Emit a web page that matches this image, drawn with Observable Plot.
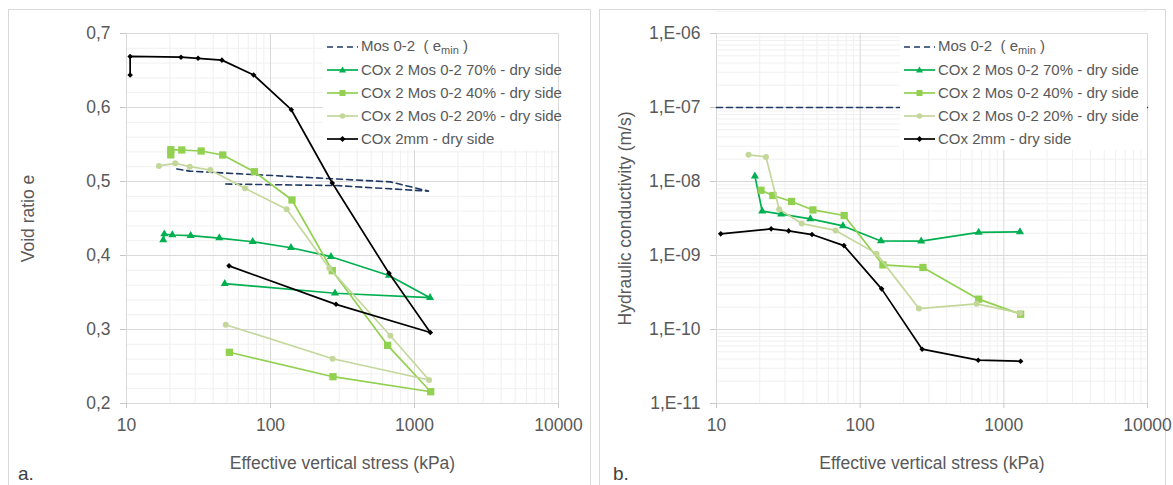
<!DOCTYPE html>
<html><head><meta charset="utf-8">
<script src="https://cdn.jsdelivr.net/npm/d3@7"></script>
<script src="https://cdn.jsdelivr.net/npm/@observablehq/plot@0.6"></script>
<style>
body{margin:0;background:#fff;font-family:"Liberation Sans",Arial,sans-serif;}
#wrap{position:relative;width:1173px;height:485px;overflow:hidden;background:#fff;}
.panel{position:absolute;border:1px solid #d9d9d9;box-sizing:border-box;}
.plot{position:absolute;top:0;}
.legend{position:absolute;background:#fff;font-size:15px;color:#595959;}
.row{position:absolute;left:0;height:22px;display:flex;align-items:center;white-space:nowrap;}
.row svg{margin-right:2px;flex:none;}
.tag{position:absolute;font-size:19px;color:#404040;line-height:19px;}
sub{font-size:11px;vertical-align:-3px;}
</style></head>
<body><div id="wrap"></div>
<script>
// ---------- data ----------
const seriesNames = ["Mos 0-2", "COx 2 Mos 0-2 70% - dry side", "COx 2 Mos 0-2 40% - dry side", "COx 2 Mos 0-2 20% - dry side", "COx 2mm - dry side"];
const seriesColors = ["#1f3864", "#00b050", "#92d050", "#c4d79b", "#000000"];
const seriesSymbols = [null, "triangle", "square", "circle", "diamond2"];

// (a) void ratio vs effective vertical stress
const stressMosA = [22.4, 27.5, 680, 1250, 285, 47.5];
const eMosA      = [0.517, 0.514, 0.4995, 0.487, 0.4945, 0.4966];
const stress70A  = [18.0, 18.3, 20.8, 27.9, 44.1, 75.2, 138.7, 263, 665, 1282, 280.5, 48.1];
const e70A       = [0.421, 0.429, 0.4277, 0.4268, 0.4236, 0.4186, 0.4105, 0.3984, 0.373, 0.343, 0.349, 0.362];
const stress40A  = [20.3, 20.3, 24.2, 33.0, 46.6, 77.2, 141, 268.5, 651, 1296, 271.6, 51.8];
const e40A       = [0.536, 0.543, 0.5426, 0.5412, 0.5358, 0.5132, 0.475, 0.3795, 0.2786, 0.2159, 0.2362, 0.2692];
const stress20A  = [16.8, 21.8, 27.5, 38.2, 66.5, 129.6, 256, 680, 1262, 270, 48.9];
const e20A       = [0.521, 0.5246, 0.52, 0.5155, 0.4908, 0.4624, 0.3831, 0.2916, 0.2318, 0.2605, 0.3065];
const stressBkA  = [10.6, 10.6, 23.9, 31.4, 46.0, 76.4, 139.5, 268.5, 665, 1288, 285, 51.5];
const eBkA       = [0.644, 0.669, 0.668, 0.6665, 0.664, 0.644, 0.597, 0.498, 0.376, 0.296, 0.334, 0.386];

// (b) hydraulic conductivity vs effective vertical stress
const stressMosB = [10, 10000];
const kMosB      = [1e-7, 1e-7];
const stress70B  = [18.5, 20.8, 28.2, 45.0, 75.9, 139.6, 266, 668, 1295];
const k70B       = [1.18e-8, 3.97e-9, 3.62e-9, 3.12e-9, 2.51e-9, 1.57e-9, 1.56e-9, 2.05e-9, 2.09e-9];
const stress40B  = [20.4, 24.7, 33.3, 46.9, 77.4, 144, 273.5, 668, 1309];
const k40B       = [7.62e-9, 6.47e-9, 5.37e-9, 4.13e-9, 3.47e-9, 7.46e-10, 6.89e-10, 2.57e-10, 1.61e-10];
const stress20B  = [16.7, 22.1, 27.3, 39.2, 67.5, 130, 256.5, 646, 1300];
const k20B       = [2.29e-8, 2.15e-8, 4.22e-9, 2.70e-9, 2.18e-9, 1.06e-9, 1.92e-10, 2.22e-10, 1.66e-10];
const stressBkB  = [10.7, 24.0, 31.8, 46.2, 77.1, 141, 270, 663, 1309];
const kBkB       = [1.96e-9, 2.29e-9, 2.15e-9, 1.92e-9, 1.36e-9, 3.54e-10, 5.42e-11, 3.85e-11, 3.72e-11];

// ticks
const xTicks = [10, 100, 1000, 10000];
const yTicksA = [0.2, 0.3, 0.4, 0.5, 0.6, 0.7];
const yTicksB = [1e-11, 1e-10, 1e-9, 1e-8, 1e-7, 1e-6];
const xTitle = "Effective vertical stress (kPa)";
const yTitleA = "Void ratio e";
const yTitleB = "Hydraulic conductivity (m/s)";

// ---------- helpers ----------
const FONT = '"Liberation Sans", Arial, sans-serif';
const toRows = (xs, ys) => xs.map((x, i) => ({x, y: ys[i]}));
const minorLog = (lo, hi) => { const out = []; for (let d = lo; d < hi; d *= 10) for (let m = 2; m <= 9; m++) out.push(d * m); return out; };
const minorX = minorLog(10, 10000);
const minorYA = d3.range(0.2, 0.7001, 0.02).filter(v => Math.abs((v * 10) - Math.round(v * 10)) > 1e-6);
const minorYB = minorLog(1e-11, 1e-6);
const fmtA = d => d.toFixed(1).replace(".", ",");
const fmtB = d => "1,E-" + String(Math.round(-Math.log10(d))).padStart(2, "0");

function seriesMarks(list) {
  const marks = [];
  list.forEach((s, i) => {
    const data = toRows(s[0], s[1]);
    marks.push(Plot.line(data, {x: "x", y: "y", stroke: seriesColors[i], strokeWidth: i === 0 ? 1.6 : 1.7,
      strokeDasharray: i === 0 ? "6,4" : null, curve: "linear"}));
    if (seriesSymbols[i]) {
      const r = {triangle: 3.0, square: 4.1, circle: 3.0, diamond2: 2.5}[seriesSymbols[i]];
      marks.push(Plot.dot(data, {x: "x", y: "y", symbol: () => seriesSymbols[i], r, fill: seriesColors[i], stroke: "none"}));
    }
  });
  return marks;
}

function makePlot({width, marginRight, yOpts, minorY, yTicks, fmt, yTitle, yTitleDx, series}) {
  return Plot.plot({
    width, height: 485, marginLeft: 126, marginRight, marginTop: 33, marginBottom: 82,
    style: {fontFamily: FONT, fontSize: "17.5px", color: "#595959", background: "transparent", overflow: "visible"},
    x: {type: "log", domain: [10, 10000]},
    y: yOpts,
    marks: [
      Plot.ruleX(minorX, {stroke: "#f0f0f0"}),
      Plot.ruleY(minorY, {stroke: "#f0f0f0"}),
      Plot.ruleX(xTicks, {stroke: "#d9d9d9"}),
      Plot.ruleY(yTicks, {stroke: "#d9d9d9"}),
      Plot.axisX({ticks: xTicks, tickFormat: d => String(d), tickSize: 5, tickPadding: 10, stroke: "#c8c8c8", fill: "#595959", label: null}),
      Plot.axisY({ticks: yTicks, tickFormat: fmt, tickSize: 6, tickPadding: 10, stroke: "#c8c8c8", fill: "#595959", label: null}),
      Plot.text([xTitle], {frameAnchor: "bottom", dy: 65, text: d => d, textAnchor: "middle", fill: "#595959", fontSize: 17.5}),
      Plot.text([yTitle], {frameAnchor: "left", dx: yTitleDx, rotate: -90, textAnchor: "middle", text: d => d, fill: "#595959", fontSize: 17.5}),
      ...seriesMarks(series)
    ]
  });
}

const wrap = document.getElementById("wrap");
function addDiv(cls, css, html) { const d = document.createElement("div"); d.className = cls; Object.assign(d.style, css); if (html) d.innerHTML = html; wrap.appendChild(d); return d; }

addDiv("panel", {left: "8px", top: "9px", width: "583px", height: "490px"});
addDiv("panel", {left: "599px", top: "9px", width: "567px", height: "490px"});

const pA = makePlot({width: 590, marginRight: 32, yOpts: {domain: [0.2, 0.7]}, minorY: minorYA, yTicks: yTicksA, fmt: fmtA,
  yTitle: yTitleA, yTitleDx: -98,
  series: [[stressMosA, eMosA], [stress70A, e70A], [stress40A, e40A], [stress20A, e20A], [stressBkA, eBkA]]});
pA.classList.add("plot"); pA.style.left = "0px"; wrap.appendChild(pA);

const pB = makePlot({width: 583, marginRight: 26, yOpts: {type: "log", domain: [1e-11, 1e-6]}, minorY: minorYB, yTicks: yTicksB, fmt: fmtB,
  yTitle: yTitleB, yTitleDx: -91,
  series: [[stressMosB, kMosB], [stress70B, k70B], [stress40B, k40B], [stress20B, k20B], [stressBkB, kBkB]]});
pB.classList.add("plot"); pB.style.left = "590px"; wrap.appendChild(pB);

// ---------- legends ----------
function sample(i) {
  const c = seriesColors[i], s = seriesSymbols[i];
  let m = "";
  if (s === "triangle") m = `<polygon points="15.5,2.5 19,8.5 12,8.5" fill="${c}"/>`;
  if (s === "square") m = `<rect x="12.5" y="3" width="6" height="6" fill="${c}"/>`;
  if (s === "circle") m = `<circle cx="15.5" cy="6" r="2.8" fill="${c}"/>`;
  if (s === "diamond2") m = `<polygon points="15.5,3 18.5,6 15.5,9 12.5,6" fill="${c}"/>`;
  const dash = i === 0 ? ' stroke-dasharray="6,4"' : "";
  return `<svg width="32" height="12" viewBox="0 0 32 12"><line x1="0" x2="31" y1="6" y2="6" stroke="${c}" stroke-width="1.7"${dash}/>${m}</svg>`;
}
function legend(left, width) {
  const L = addDiv("legend", {left: left + "px", top: "34px", width: width + "px", height: "116px"});
  seriesNames.forEach((n, i) => {
    const r = document.createElement("div");
    r.className = "row";
    r.style.top = (1.5 + i * 23) + "px";
    r.style.left = "4px";
    const label = i === 0 ? `${n}&nbsp;&nbsp;( e<sub>min</sub> )` : n;
    r.innerHTML = sample(i) + `<span>${label}</span>`;
    L.appendChild(r);
  });
}
legend(323, 235);
legend(900, 247);

addDiv("tag", {left: "18px", top: "464px"}, "a.");
addDiv("tag", {left: "613px", top: "464px"}, "b.");
</script></body></html>
